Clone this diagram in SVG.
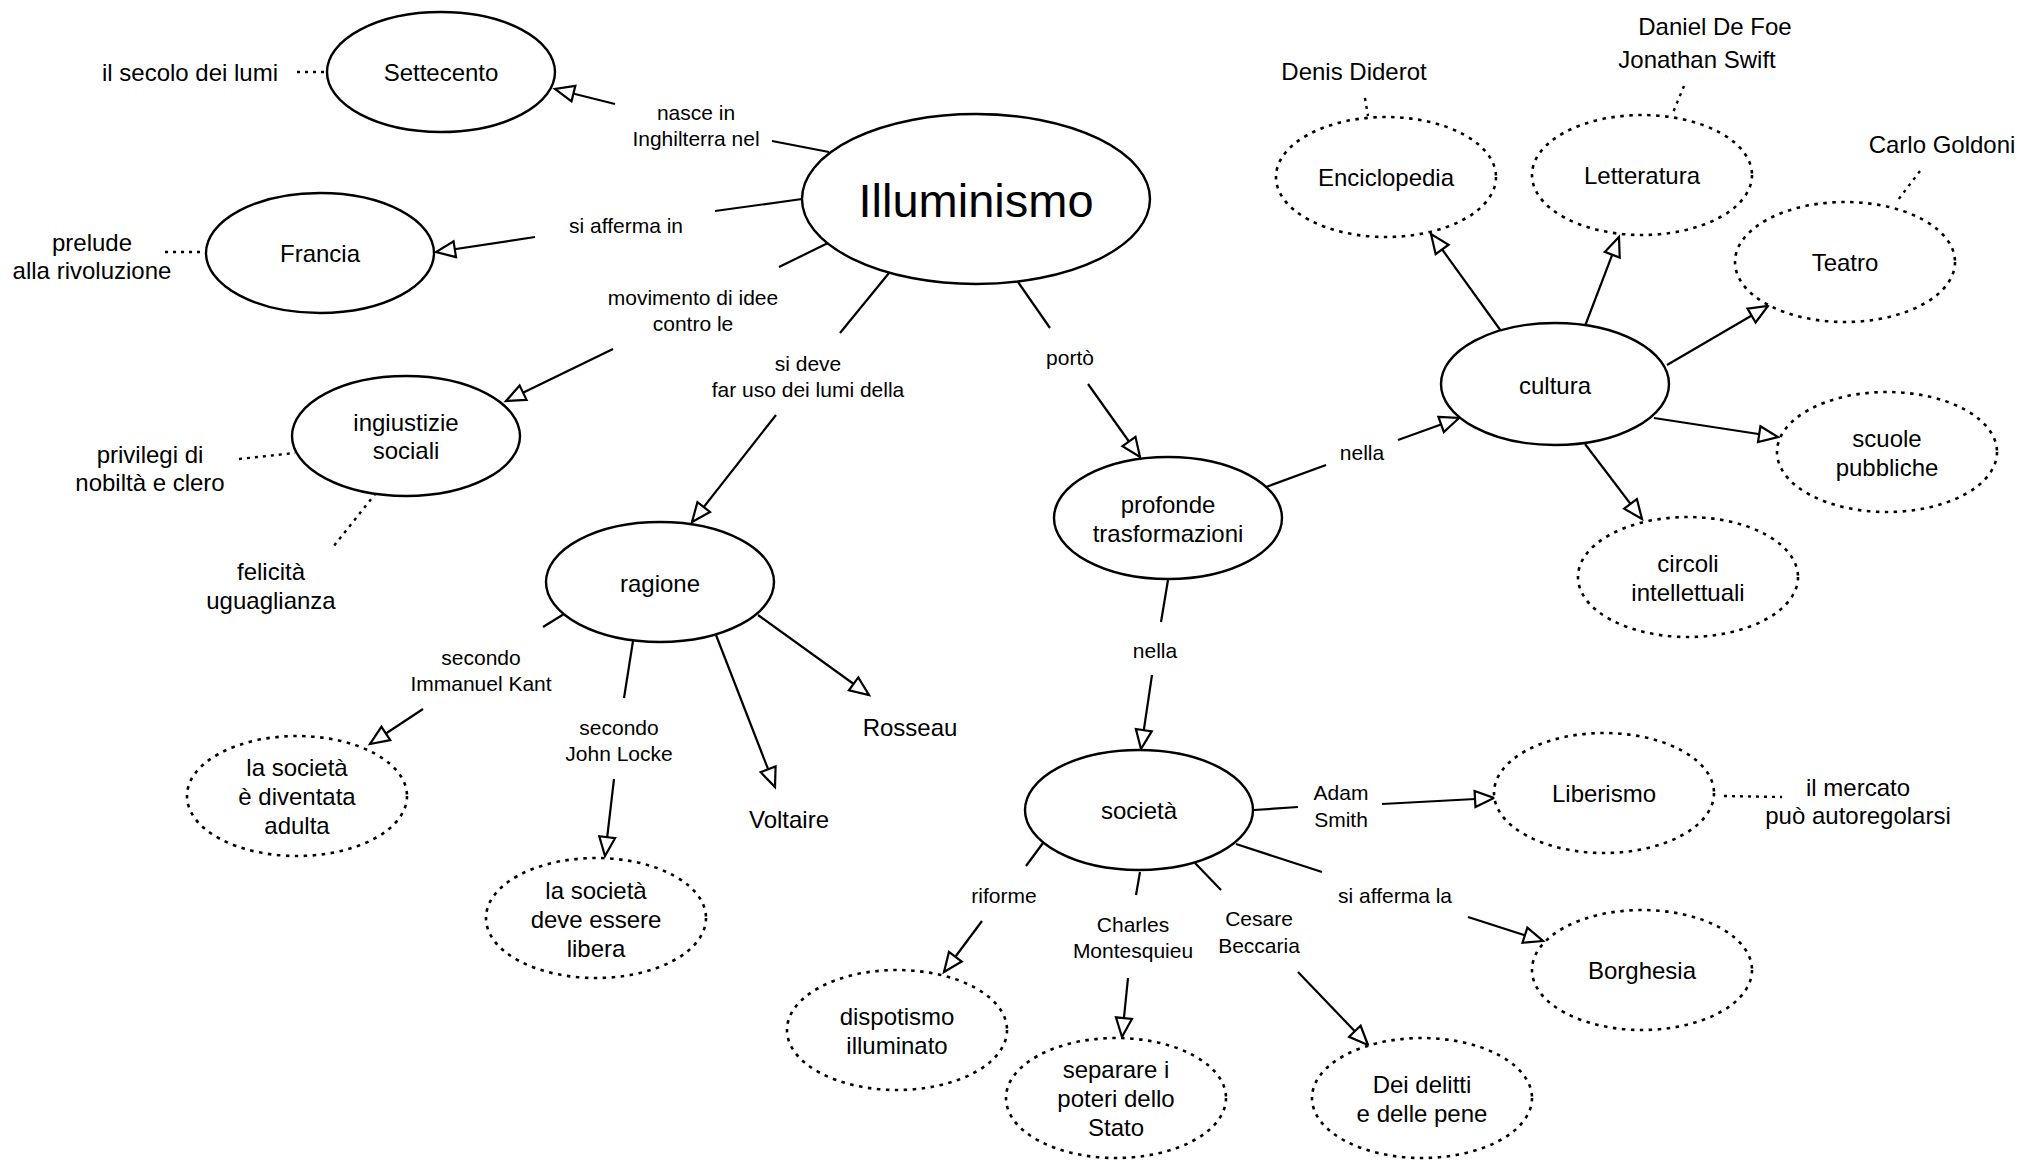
<svg xmlns="http://www.w3.org/2000/svg" width="2042" height="1160" viewBox="0 0 2042 1160">
<style>
text{font-family:"Liberation Sans",Arial,sans-serif;fill:#000;text-anchor:middle;dominant-baseline:central}
.n{font-size:24px}
.e{font-size:21px}
.big{font-size:47px}
.solid{fill:#fff;stroke:#000;stroke-width:2.4}
.dash{fill:#fff;stroke:#000;stroke-width:2.6;stroke-dasharray:3.5 5.5}
.ln{fill:none;stroke:#000;stroke-width:2.2}
.arr{fill:none;stroke:#000;stroke-width:2.2;marker-end:url(#tri)}
.dot{fill:none;stroke:#000;stroke-width:2.4;stroke-dasharray:3 5}
</style>
<defs>
<marker id="tri" markerUnits="userSpaceOnUse" markerWidth="24" markerHeight="20" refX="19" refY="8" orient="auto" viewBox="-2 -2 24 20">
<path d="M0,0 L19,8 L0,16 Z" fill="#fff" stroke="#000" stroke-width="2.2" stroke-linejoin="miter"/>
</marker>
</defs>
<rect width="2042" height="1160" fill="#fff"/>
<g id="connectors">
<line class="ln" x1="829" y1="152" x2="772" y2="141"/><line class="arr" x1="615" y1="104" x2="555" y2="89"/>
<line class="ln" x1="802" y1="199" x2="715" y2="211"/><line class="arr" x1="535" y1="237" x2="436" y2="252"/>
<line class="ln" x1="828" y1="243" x2="779" y2="267"/><line class="arr" x1="613" y1="349" x2="506" y2="401"/>
<line class="ln" x1="889" y1="273" x2="840" y2="333"/><line class="arr" x1="776" y1="415" x2="692" y2="522"/>
<line class="ln" x1="1018" y1="282" x2="1050" y2="328"/><line class="arr" x1="1088" y1="384" x2="1140" y2="457"/>
<line class="ln" x1="1266" y1="487" x2="1326" y2="465"/><line class="arr" x1="1398" y1="440" x2="1459" y2="418"/>
<line class="ln" x1="1168" y1="580" x2="1161" y2="622"/><line class="arr" x1="1152" y1="675" x2="1141" y2="749"/>
<line class="ln" x1="564" y1="614" x2="543" y2="627"/><line class="arr" x1="423" y1="709" x2="370" y2="744"/>
<line class="ln" x1="633" y1="641" x2="624" y2="698"/><line class="arr" x1="614" y1="779" x2="605" y2="856"/>
<line class="arr" x1="716" y1="635" x2="775" y2="787"/>
<line class="arr" x1="758" y1="615" x2="869" y2="695"/>
<line class="arr" x1="1501" y1="331" x2="1431" y2="234"/>
<line class="arr" x1="1585" y1="326" x2="1619" y2="237"/>
<line class="arr" x1="1667" y1="365" x2="1768" y2="306"/>
<line class="arr" x1="1654" y1="418" x2="1778" y2="437"/>
<line class="arr" x1="1585" y1="444" x2="1642" y2="519"/>
<line class="ln" x1="1254" y1="810" x2="1298" y2="807"/><line class="arr" x1="1382" y1="804" x2="1494" y2="798"/>
<line class="ln" x1="1236" y1="844" x2="1322" y2="872"/><line class="arr" x1="1468" y1="917" x2="1543" y2="941"/>
<line class="ln" x1="1140" y1="872" x2="1136" y2="895"/><line class="arr" x1="1128" y1="978" x2="1122" y2="1037"/>
<line class="ln" x1="1195" y1="863" x2="1221" y2="890"/><line class="arr" x1="1298" y1="972" x2="1368" y2="1045"/>
<line class="ln" x1="1043" y1="843" x2="1026" y2="866"/><line class="arr" x1="982" y1="921" x2="944" y2="972"/>
<line class="dot" x1="297" y1="72" x2="325" y2="72"/>
<line class="dot" x1="165" y1="252" x2="208" y2="252"/>
<line class="dot" x1="239" y1="459" x2="295" y2="453"/>
<line class="dot" x1="376" y1="493" x2="333" y2="547"/>
<line class="dot" x1="1365" y1="98" x2="1368" y2="116"/>
<line class="dot" x1="1684" y1="86" x2="1672" y2="115"/>
<line class="dot" x1="1920" y1="171" x2="1898" y2="200"/>
<line class="dot" x1="1724" y1="796" x2="1782" y2="797"/>
<text class="e" x="696" y="112">nasce in</text><text class="e" x="696" y="138">Inghilterra nel</text>
<text class="e" x="626" y="225">si afferma in</text>
<text class="e" x="693" y="297">movimento di idee</text><text class="e" x="693" y="323">contro le</text>
<text class="e" x="808" y="363">si deve</text><text class="e" x="808" y="389">far uso dei lumi della</text>
<text class="e" x="1070" y="357">portò</text>
<text class="e" x="1362" y="452">nella</text>
<text class="e" x="1155" y="650">nella</text>
<text class="e" x="481" y="657">secondo</text><text class="e" x="481" y="683">Immanuel Kant</text>
<text class="e" x="619" y="727">secondo</text><text class="e" x="619" y="753">John Locke</text>
<text class="e" x="1341" y="792">Adam</text><text class="e" x="1341" y="819">Smith</text>
<text class="e" x="1395" y="895">si afferma la</text>
<text class="e" x="1133" y="924">Charles</text><text class="e" x="1133" y="950">Montesquieu</text>
<text class="e" x="1259" y="918">Cesare</text><text class="e" x="1259" y="945">Beccaria</text>
<text class="e" x="1004" y="895">riforme</text>
</g>
<g id="illuminismo"><ellipse class="solid" cx="976" cy="199" rx="174" ry="85"/><text class="big" x="976" y="200">Illuminismo</text></g>
<g id="settecento"><ellipse class="solid" cx="441" cy="72" rx="114" ry="60"/><text class="n" x="441" y="72">Settecento</text></g>
<g id="francia"><ellipse class="solid" cx="320" cy="253" rx="114" ry="60"/><text class="n" x="320" y="253">Francia</text></g>
<g id="ingiustizie"><ellipse class="solid" cx="406" cy="436" rx="114" ry="60"/><text class="n" x="406" y="422">ingiustizie</text><text class="n" x="406" y="450">sociali</text></g>
<g id="ragione"><ellipse class="solid" cx="660" cy="582" rx="114" ry="60"/><text class="n" x="660" y="583">ragione</text></g>
<g id="profonde"><ellipse class="solid" cx="1168" cy="518" rx="114" ry="61"/><text class="n" x="1168" y="504">profonde</text><text class="n" x="1168" y="533">trasformazioni</text></g>
<g id="cultura"><ellipse class="solid" cx="1555" cy="384" rx="114" ry="61"/><text class="n" x="1555" y="385">cultura</text></g>
<g id="societa"><ellipse class="solid" cx="1139" cy="810" rx="114" ry="60"/><text class="n" x="1139" y="810">società</text></g>
<g id="enciclopedia"><ellipse class="dash" cx="1386" cy="177" rx="110" ry="60"/><text class="n" x="1386" y="177">Enciclopedia</text></g>
<g id="letteratura"><ellipse class="dash" cx="1642" cy="175" rx="110" ry="60"/><text class="n" x="1642" y="175">Letteratura</text></g>
<g id="teatro"><ellipse class="dash" cx="1845" cy="262" rx="110" ry="60"/><text class="n" x="1845" y="262">Teatro</text></g>
<g id="scuole"><ellipse class="dash" cx="1887" cy="452" rx="110" ry="60"/><text class="n" x="1887" y="438">scuole</text><text class="n" x="1887" y="467">pubbliche</text></g>
<g id="circoli"><ellipse class="dash" cx="1688" cy="577" rx="110" ry="60"/><text class="n" x="1688" y="563">circoli</text><text class="n" x="1688" y="592">intellettuali</text></g>
<g id="liberismo"><ellipse class="dash" cx="1604" cy="793" rx="110" ry="60"/><text class="n" x="1604" y="793">Liberismo</text></g>
<g id="borghesia"><ellipse class="dash" cx="1642" cy="970" rx="110" ry="60"/><text class="n" x="1642" y="970">Borghesia</text></g>
<g id="delitti"><ellipse class="dash" cx="1422" cy="1098" rx="110" ry="60"/><text class="n" x="1422" y="1084">Dei delitti</text><text class="n" x="1422" y="1113">e delle pene</text></g>
<g id="separare"><ellipse class="dash" cx="1116" cy="1098" rx="110" ry="60"/><text class="n" x="1116" y="1069">separare i</text><text class="n" x="1116" y="1098">poteri dello</text><text class="n" x="1116" y="1127">Stato</text></g>
<g id="dispotismo"><ellipse class="dash" cx="897" cy="1030" rx="110" ry="60"/><text class="n" x="897" y="1016">dispotismo</text><text class="n" x="897" y="1045">illuminato</text></g>
<g id="libera"><ellipse class="dash" cx="596" cy="918" rx="110" ry="60"/><text class="n" x="596" y="890">la società</text><text class="n" x="596" y="919">deve essere</text><text class="n" x="596" y="948">libera</text></g>
<g id="adulta"><ellipse class="dash" cx="297" cy="796" rx="110" ry="60"/><text class="n" x="297" y="767">la società</text><text class="n" x="297" y="796">è diventata</text><text class="n" x="297" y="825">adulta</text></g>
<g id="free-texts">
<text class="n" x="190" y="72">il secolo dei lumi</text>
<text class="n" x="92" y="242">prelude</text><text class="n" x="92" y="270">alla rivoluzione</text>
<text class="n" x="150" y="454">privilegi di</text><text class="n" x="150" y="482">nobiltà e clero</text>
<text class="n" x="271" y="571">felicità</text><text class="n" x="271" y="600">uguaglianza</text>
<text class="n" x="910" y="727">Rosseau</text>
<text class="n" x="789" y="819">Voltaire</text>
<text class="n" x="1354" y="71">Denis Diderot</text>
<text class="n" x="1715" y="26">Daniel De Foe</text><text class="n" x="1697" y="59">Jonathan Swift</text>
<text class="n" x="1942" y="144">Carlo Goldoni</text>
<text class="n" x="1858" y="787">il mercato</text><text class="n" x="1858" y="815">può autoregolarsi</text>
</g>
</svg>
